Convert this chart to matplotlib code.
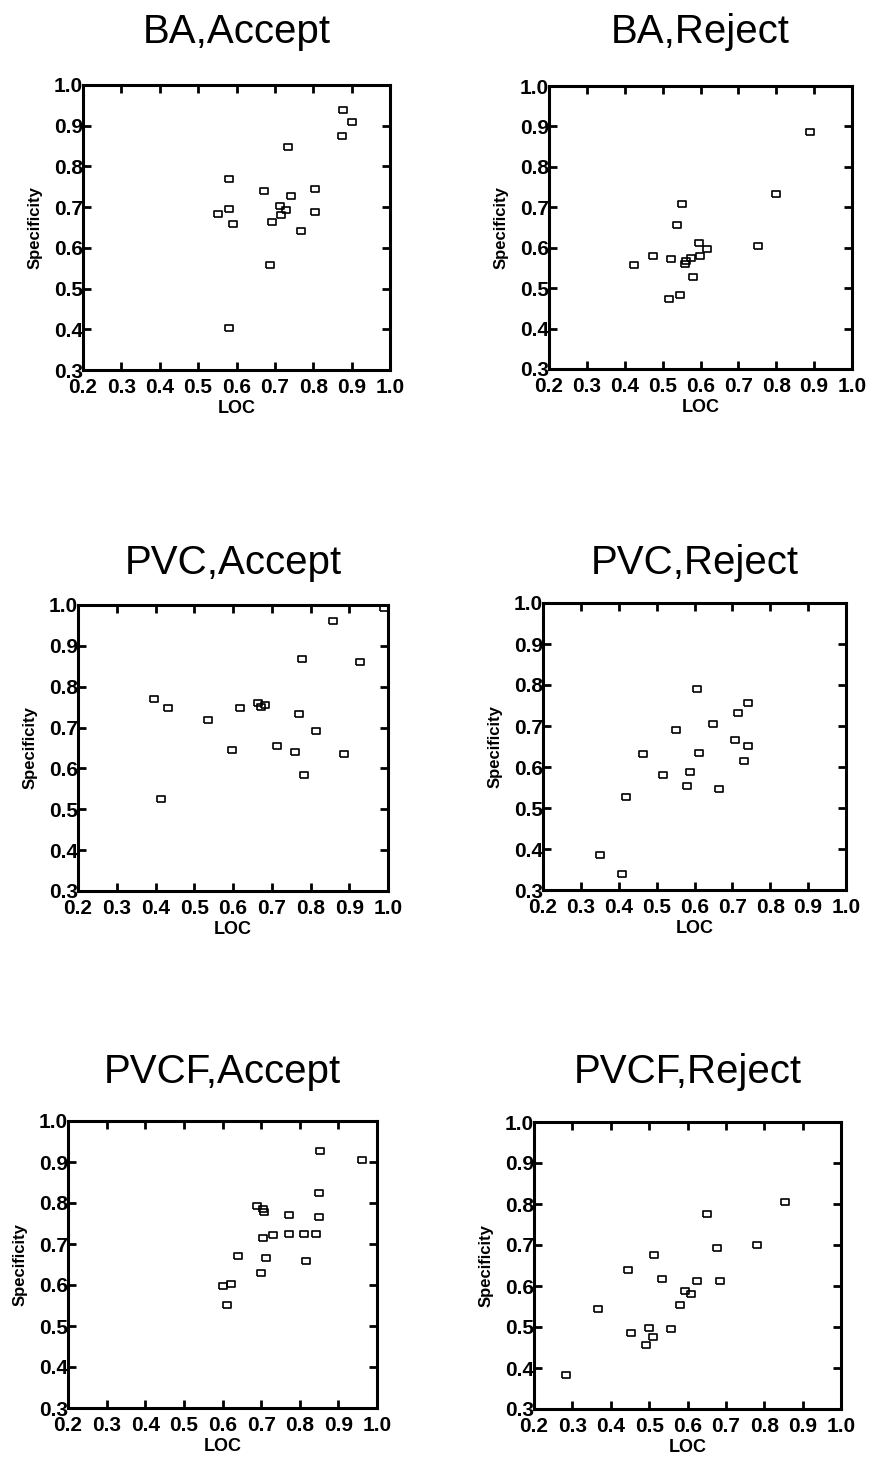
import matplotlib
matplotlib.use("Agg")
import matplotlib.pyplot as plt

plt.rcParams['font.family'] = ['Liberation Sans', 'DejaVu Sans']

W, H = 875, 1465

# ---------------- data (LOC, Specificity) ----------------
ba_accept_loc = [0.878, 0.900, 0.875, 0.735, 0.581, 0.672, 0.804, 0.741, 0.713, 0.553,
                 0.581, 0.728, 0.804, 0.591, 0.693, 0.715, 0.767, 0.687, 0.581]
ba_accept_spec = [0.939, 0.910, 0.874, 0.847, 0.769, 0.739, 0.745, 0.727, 0.702, 0.684,
                  0.696, 0.692, 0.688, 0.659, 0.664, 0.680, 0.642, 0.557, 0.402]

ba_reject_loc = [0.889, 0.799, 0.751, 0.550, 0.537, 0.424, 0.475, 0.521, 0.559, 0.576,
                 0.596, 0.616, 0.598, 0.579, 0.516, 0.545, 0.562]
ba_reject_spec = [0.887, 0.733, 0.604, 0.708, 0.657, 0.558, 0.579, 0.571, 0.559, 0.574,
                  0.611, 0.598, 0.580, 0.528, 0.473, 0.482, 0.566]

pvc_accept_loc = [0.859, 0.990, 0.777, 0.927, 0.397, 0.432, 0.536, 0.617, 0.664, 0.683,
                  0.673, 0.771, 0.814, 0.597, 0.714, 0.761, 0.886, 0.782, 0.414]
pvc_accept_spec = [0.960, 0.993, 0.867, 0.861, 0.769, 0.747, 0.718, 0.747, 0.761, 0.755,
                   0.751, 0.734, 0.691, 0.646, 0.655, 0.639, 0.635, 0.584, 0.526]

pvc_reject_loc = [0.607, 0.742, 0.715, 0.648, 0.552, 0.707, 0.742, 0.464, 0.612, 0.731,
                  0.517, 0.588, 0.579, 0.664, 0.418, 0.350, 0.409]
pvc_reject_spec = [0.791, 0.756, 0.731, 0.705, 0.691, 0.665, 0.652, 0.631, 0.634, 0.614,
                   0.581, 0.587, 0.553, 0.547, 0.526, 0.386, 0.340]

pvcf_accept_loc = [0.853, 0.961, 0.849, 0.689, 0.706, 0.708, 0.771, 0.849, 0.706, 0.732,
                   0.771, 0.810, 0.842, 0.641, 0.713, 0.817, 0.700, 0.601, 0.621, 0.611]
pvcf_accept_spec = [0.927, 0.904, 0.825, 0.792, 0.786, 0.778, 0.770, 0.766, 0.715, 0.721,
                    0.725, 0.724, 0.724, 0.670, 0.667, 0.659, 0.629, 0.598, 0.603, 0.551]

pvcf_reject_loc = [0.854, 0.650, 0.676, 0.780, 0.512, 0.445, 0.534, 0.626, 0.684, 0.593,
                   0.610, 0.580, 0.367, 0.454, 0.500, 0.558, 0.493, 0.509, 0.284]
pvcf_reject_spec = [0.805, 0.775, 0.693, 0.701, 0.675, 0.640, 0.618, 0.611, 0.611, 0.589,
                    0.581, 0.553, 0.545, 0.486, 0.498, 0.496, 0.455, 0.476, 0.382]

titles = ["BA,Accept", "BA,Reject", "PVC,Accept", "PVC,Reject", "PVCF,Accept", "PVCF,Reject"]
x_ticks = [0.2, 0.3, 0.4, 0.5, 0.6, 0.7, 0.8, 0.9, 1.0]
x_tick_labels = ["0.2", "0.3", "0.4", "0.5", "0.6", "0.7", "0.8", "0.9", "1.0"]
y_ticks = [0.3, 0.4, 0.5, 0.6, 0.7, 0.8, 0.9, 1.0]
y_tick_labels = ["0.3", "0.4", "0.5", "0.6", "0.7", "0.8", "0.9", "1.0"]
x_label = "LOC"
y_label = "Specificity"

series = [
    (ba_accept_loc, ba_accept_spec),
    (ba_reject_loc, ba_reject_spec),
    (pvc_accept_loc, pvc_accept_spec),
    (pvc_reject_loc, pvc_reject_spec),
    (pvcf_accept_loc, pvcf_accept_spec),
    (pvcf_reject_loc, pvcf_reject_spec),
]

# axes boxes in pixels: left, top, right, bottom
boxes = [
    (83, 85, 390, 370),
    (549, 86, 852, 369),
    (78, 605, 388, 891),
    (543, 603, 846, 890),
    (68, 1121, 377, 1408),
    (534, 1122, 841, 1409),
]
title_baselines = [43, 574, 1083]

rect_marker = [(-1, -0.72), (1, -0.72), (1, 0.72), (-1, 0.72), (-1, -0.72)]

fig = plt.figure(figsize=(W / 100, H / 100), dpi=100)

for i, ((xs, ys), (l, t, r, b), title) in enumerate(zip(series, boxes, titles)):
    ax = fig.add_axes([l / W, 1 - b / H, (r - l) / W, (b - t) / H])
    ax.plot(xs, ys, linestyle='none', marker=rect_marker, markersize=5.5,
            markerfacecolor='none', markeredgecolor='black', markeredgewidth=1.2,
            clip_on=False)
    ax.set_xlim(0.2, 1.0)
    ax.set_ylim(0.3, 1.0)
    ax.set_xticks(x_ticks)
    ax.set_xticklabels(x_tick_labels, fontweight='bold')
    ax.set_yticks(y_ticks)
    ax.set_yticklabels(y_tick_labels, fontweight='bold')
    ax.tick_params(axis='both', which='major', direction='in', length=6, width=2.0,
                   top=True, right=True, labelsize=15, colors='black')
    ax.tick_params(axis='x', pad=6)
    ax.tick_params(axis='y', pad=0)
    for sp in ax.spines.values():
        sp.set_linewidth(2.2)
        sp.set_color('black')
    ax.set_xlabel(x_label, fontsize=13, fontweight='bold', labelpad=2)
    ax.set_ylabel(y_label, fontsize=12, fontweight='bold', labelpad=8)
    cx = (l + r) / 2
    fig.text(cx / W, 1 - title_baselines[i // 2] / H, title, ha='center', va='baseline',
             fontsize=29, color='black')

fig.savefig("out.png", dpi=100, facecolor='white')
